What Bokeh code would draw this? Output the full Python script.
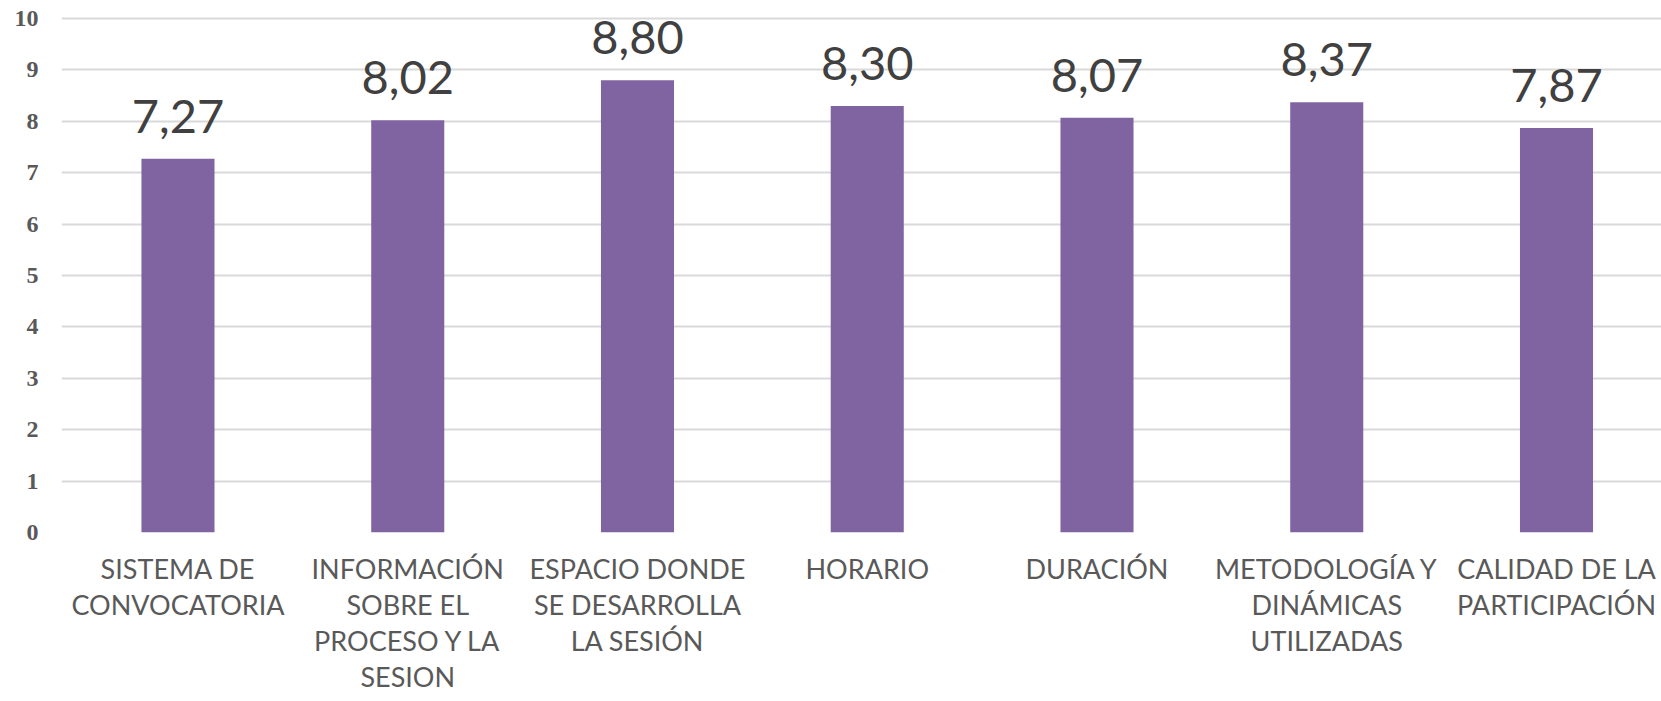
from bokeh.plotting import figure
from bokeh.models import ColumnDataSource, Range1d, FixedTicker, LabelSet
from bokeh.embed import file_html
from bokeh.resources import INLINE
from bokeh.core.properties import value

categories = [
    "SISTEMA DE\nCONVOCATORIA",
    "INFORMACIÓN\nSOBRE EL\nPROCESO Y LA\nSESION",
    "ESPACIO DONDE\nSE DESARROLLA\nLA SESIÓN",
    "HORARIO",
    "DURACIÓN",
    "METODOLOGÍA Y\nDINÁMICAS\nUTILIZADAS",
    "CALIDAD DE LA\nPARTICIPACIÓN",
]
scores = [7.27, 8.02, 8.80, 8.30, 8.07, 8.37, 7.87]
score_labels = ["7,27", "8,02", "8,80", "8,30", "8,07", "8,37", "7,87"]
y_ticks = [0, 1, 2, 3, 4, 5, 6, 7, 8, 9, 10]

xs = list(range(len(categories)))
src = ColumnDataSource(dict(x=xs, top=scores, lab=score_labels))

p = figure(width=1661, height=701, output_backend="svg", toolbar_location=None,
           x_range=Range1d(-0.507, 6.457), y_range=Range1d(0, 10.078),
           min_border_left=61, min_border_right=0, min_border_top=14, min_border_bottom=169)

p.vbar(x="x", top="top", width=0.318, bottom=0, source=src,
       fill_color="#8064A2", line_color=None)

labels = LabelSet(x="x", y="top", text="lab", source=src, text_align="center",
                  text_baseline="alphabetic", y_offset=26,
                  text_font=value("Lato"), text_font_size="47px", text_color="#404040")
p.add_layout(labels)

p.outline_line_color = None
p.xgrid.grid_line_color = None
p.ygrid.grid_line_color = "#d9d9d9"
p.ygrid.grid_line_width = 2

p.yaxis.ticker = FixedTicker(ticks=y_ticks)
p.yaxis.axis_line_color = None
p.yaxis.major_tick_line_color = None
p.yaxis.minor_tick_line_color = None
p.yaxis.major_tick_out = 0
p.yaxis.major_label_standoff = 23
p.yaxis.major_label_text_align = "right"
p.yaxis.major_label_text_font = "Liberation Serif"
p.yaxis.major_label_text_font_style = "bold"
p.yaxis.major_label_text_font_size = "24px"
p.yaxis.major_label_text_color = "#595959"

p.xaxis.ticker = FixedTicker(ticks=xs)
p.xaxis.major_label_overrides = {i: c for i, c in enumerate(categories)}
p.xaxis.axis_line_color = None
p.xaxis.major_tick_line_color = None
p.xaxis.minor_tick_line_color = None
p.xaxis.major_tick_out = 0
p.xaxis.major_label_standoff = 19
p.xaxis.major_label_text_font = "Lato"
p.xaxis.major_label_text_font_size = "27px"
p.xaxis.major_label_text_color = "#595959"
p.xaxis.major_label_text_line_height = 1.1

open("out.html", "w").write(file_html(p, INLINE))
